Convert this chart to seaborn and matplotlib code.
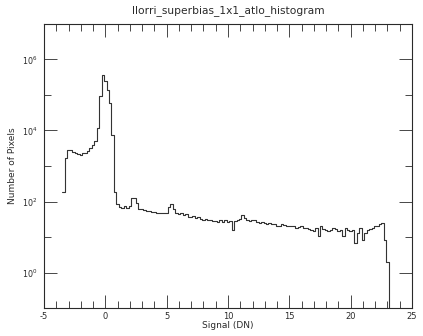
import numpy as np
import pandas as pd
import matplotlib
matplotlib.use("Agg")
import matplotlib.pyplot as plt
import seaborn as sns
from matplotlib.ticker import FixedLocator, NullFormatter, LogFormatterSciNotation, MultipleLocator

# ---------------- data ----------------
title = "llorri_superbias_1x1_atlo_histogram"
xlabel = "Signal (DN)"
ylabel = "Number of Pixels"

first_edge = -3.5
bin_width = 0.2
counts = [
    190, 1700, 2900, 2750, 2500, 2350, 2200, 2100, 2250, 2400,
    2700, 3250, 4000, 5000, 11800, 91000, 372000, 240000, 141000, 60000,
    7700, 190, 83, 70, 66, 74, 66, 76, 128, 125,
    88, 62, 61, 57, 54, 55, 51, 52, 49, 48,
    48, 47, 48, 68, 84, 60, 49, 44, 48, 41,
    44, 37, 36, 40, 34, 36, 33, 31, 33, 30,
    31, 29, 28, 27, 30, 26, 30, 27, 28, 16,
    28, 31, 33, 43, 35, 31, 28, 31, 30, 27,
    25, 26, 25, 24, 25, 24, 23, 20, 21, 23,
    22, 21, 20, 21, 20, 18, 19, 20, 18, 18,
    17, 16, 15, 18, 11, 20, 17, 16, 15, 16,
    18, 17, 15, 16, 11, 18, 16, 15, 16, 7,
    13, 18, 8, 13, 16, 17, 18, 20, 21, 23,
    25, 8, 2, 0,
]
x_major = [-5, 0, 5, 10, 15, 20, 25]
y_major = [1e0, 1e2, 1e4, 1e6]
y_minor = [1e-1, 1e1, 1e3, 1e5, 1e7]

edges = np.round(first_edge + bin_width * np.arange(len(counts) + 1), 4)
centers = (edges[:-1] + edges[1:]) / 2
df = pd.DataFrame({"signal": centers, "count": counts})

# ---------------- style ----------------
sns.set_style("ticks")
plt.rcParams["font.family"] = ["DejaVu Sans"]
plt.rcParams["axes.unicode_minus"] = False
ink = "#2a2a2a"

fig = plt.figure(figsize=(4.23, 3.36), dpi=100)
ax = fig.add_axes([0.104, 0.0833, 0.870, 0.8453])

sns.histplot(data=df, x="signal", weights="count", bins=edges.tolist(),
             element="step", fill=False, color="#333333", linewidth=0.8, ax=ax)
ax.set_yscale("log", nonpositive="clip")

ax.set_xlim(-5, 25)
ax.set_ylim(0.1, 1e7)

ax.xaxis.set_major_locator(FixedLocator(x_major))
ax.xaxis.set_minor_locator(MultipleLocator(1))
ax.yaxis.set_major_locator(FixedLocator(y_major))
ax.yaxis.set_minor_locator(FixedLocator(y_minor))
ax.yaxis.set_major_formatter(LogFormatterSciNotation())
ax.yaxis.set_minor_formatter(NullFormatter())

for s in ax.spines.values():
    s.set_visible(True)
    s.set_color(ink)
    s.set_linewidth(0.8)

ax.tick_params(which="both", direction="in", top=True, right=True,
               color=ink, width=0.6, labelcolor=ink)
ax.tick_params(which="major", length=9.5)
ax.tick_params(which="minor", length=5)
ax.tick_params(axis="x", pad=3, labelsize=6)
ax.tick_params(axis="y", pad=5, labelsize=5.8)

ax.set_xlabel(xlabel, fontsize=6.5, color=ink, labelpad=0)
ax.set_ylabel(ylabel, fontsize=6.5, color=ink, labelpad=3)
ax.set_title(title, fontsize=7.7, color=ink, pad=8)

fig.savefig("out.png", dpi=100)
